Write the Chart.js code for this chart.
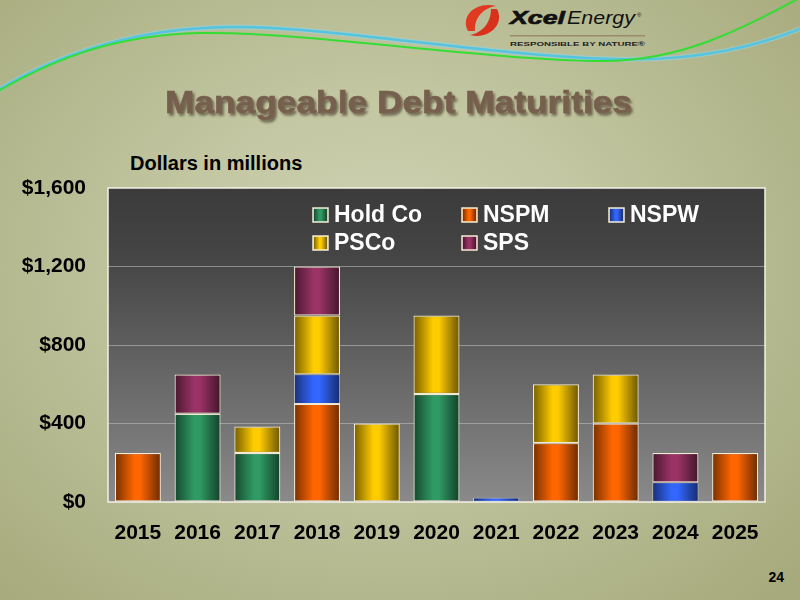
<!DOCTYPE html>
<html><head><meta charset="utf-8">
<script src="https://cdn.jsdelivr.net/npm/chart.js@4"></script>
<style>
html,body{margin:0;padding:0;width:800px;height:600px;overflow:hidden}
body{background:radial-gradient(ellipse 70% 75% at 48% 45%, #d0d4b6 0%, #c0c49e 45%, #a6aa7c 100%);font-family:"Liberation Sans",Arial,sans-serif;position:relative}
#deco{position:absolute;left:0;top:0}
#sub{position:absolute;left:130px;top:152px;font-weight:bold;font-size:20px;color:#000;white-space:nowrap}
#page{position:absolute;right:16px;top:569px;font-weight:bold;font-size:14px;color:#000}
#wrap{position:absolute;left:0;top:0;width:800px;height:600px}
</style></head>
<body>
<svg id="deco" width="800" height="600" xmlns="http://www.w3.org/2000/svg">
  <defs>
    <filter id="ts" x="-5%" y="-20%" width="110%" height="150%">
      <feDropShadow dx="2" dy="2.5" stdDeviation="1.2" flood-color="#3c2c1c" flood-opacity="0.6"/>
    </filter>
  </defs>
  <path d="M -5 92 C 60 52, 140 28, 230 27 C 330 26, 480 55, 612 59 C 700 62, 760 45, 805 27" fill="none" stroke="#8fd8e8" stroke-width="5" opacity="0.5"/>
  <path d="M -5 92 C 60 52, 140 28, 230 27 C 330 26, 480 55, 612 59 C 700 62, 760 45, 805 27" fill="none" stroke="#55c4e0" stroke-width="2.5"/>
  <path d="M -5 93 C 60 55, 120 35, 200 33 C 300 31, 480 60, 600 61 C 680 62, 740 30, 805 -5" fill="none" stroke="#33dd33" stroke-width="2"/>
  <path d="M 468 31 C 460 16, 476 1, 496 6 C 484 8, 474 17, 475 31 Z" fill="#e03a22"/>
  <path d="M 497 9 C 505 24, 489 40, 470 35 C 481 33, 491 24, 491 9 Z" fill="#d8321c"/>
  <text x="510" y="24" font-family="Liberation Sans, Arial" font-weight="bold" font-style="italic" font-size="19" textLength="55" lengthAdjust="spacingAndGlyphs" fill="#111" stroke="#111" stroke-width="0.7">Xcel</text>
  <text x="567" y="24" font-family="Liberation Sans, Arial" font-style="italic" font-size="19" textLength="68" lengthAdjust="spacingAndGlyphs" fill="#111">Energy</text>
  <text x="637" y="17" font-family="Liberation Sans, Arial" font-size="6" fill="#111">®</text>
  <rect x="510" y="35" width="135" height="1.5" fill="#9c8a6c"/>
  <text x="510" y="45.5" font-family="Liberation Sans, Arial" font-weight="bold" font-size="6" textLength="135" lengthAdjust="spacingAndGlyphs" fill="#222">RESPONSIBLE BY NATURE®</text>
  <text x="165" y="113" font-family="Liberation Sans, Arial" font-weight="bold" font-size="32" textLength="467" lengthAdjust="spacingAndGlyphs" fill="#76604e" stroke="#76604e" stroke-width="0.6" filter="url(#ts)">Manageable Debt Maturities</text>
</svg>
<div id="sub">Dollars in millions</div>
<div id="page">24</div>
<div id="wrap"><canvas id="c" width="800" height="600"></canvas></div>
<script>
const years = ['2015','2016','2017','2018','2019','2020','2021','2022','2023','2024','2025'];
const holdCo = [null, 450, 250, null, null, 550, null, null, null, null, null];
const nspm   = [250, null, null, 500, null, null, null, 300, 400, null, 250];
const nspw   = [null, null, null, 150, null, null, 22, null, null, 100, null];
const psco   = [null, null, 135, 300, 400, 400, null, 300, 250, null, null];
const sps    = [null, 200, null, 250, null, null, null, null, null, 150, null];
const yTickLabels = ['$0', '$400', '$800', '$1,200', '$1,600'];

const FONT = '"Liberation Sans", Arial, sans-serif';
const BORDER = '#f2ead2';

const bgPlugin = {
  id: 'plotBg',
  beforeDraw(chart) {
    const {ctx, chartArea: a} = chart;
    const g = ctx.createLinearGradient(0, a.top, 0, a.bottom);
    g.addColorStop(0, '#3b3b3b');
    g.addColorStop(0.22, '#454545');
    g.addColorStop(1, '#8a8a8a');
    ctx.save(); ctx.fillStyle = g; ctx.fillRect(a.left, a.top, a.right - a.left, a.bottom - a.top); ctx.restore();
  }
};

function shade(ctx, l, t, r, b, k) {
  if (r <= l || b <= t) return;
  k = k == null ? 1 : k;
  const g = ctx.createLinearGradient(l, 0, r, 0);
  g.addColorStop(0, 'rgba(0,0,0,' + 0.5 * k + ')');
  g.addColorStop(0.42, 'rgba(0,0,0,0)');
  g.addColorStop(0.55, 'rgba(0,0,0,0)');
  g.addColorStop(1, 'rgba(0,0,0,' + 0.55 * k + ')');
  ctx.fillStyle = g; ctx.fillRect(l, t, r - l, b - t);
}

const shadePlugin = {
  id: 'barShade',
  afterDatasetsDraw(chart) {
    const ctx = chart.ctx;
    ctx.save();
    chart.data.datasets.forEach((ds, i) => {
      const meta = chart.getDatasetMeta(i);
      meta.data.forEach((el, j) => {
        if (ds.data[j] == null) return;
        const p = el.getProps(['x', 'y', 'base', 'width'], true);
        const bw = ds.borderWidth;
        const l = p.x - p.width / 2 + bw, r = p.x + p.width / 2 - bw;
        const t = Math.min(p.y, p.base) + bw, b = Math.max(p.y, p.base) - bw;
        shade(ctx, l, t, r, b);
      });
    });
    ctx.restore();
  }
};

const framePlugin = {
  id: 'frame',
  afterDraw(chart) {
    const {ctx, chartArea: a} = chart;
    ctx.save();
    ctx.strokeStyle = '#f4f1e6'; ctx.lineWidth = 1.5;
    ctx.strokeRect(a.left, a.top, a.right - a.left, a.bottom - a.top);
    // legend
    const cols = [205, 354, 501];
    const rows = [27, 55];
    ctx.font = 'bold 23px ' + FONT;
    ctx.textBaseline = 'middle';
    chart.data.datasets.forEach((ds, i) => {
      const x = a.left + cols[i % 3], y = a.top + rows[Math.floor(i / 3)];
      ctx.fillStyle = ds.backgroundColor;
      ctx.fillRect(x, y - 7, 15, 14);
      shade(ctx, x + 1, y - 6, x + 14, y + 6);
      ctx.strokeStyle = BORDER; ctx.lineWidth = 1.5;
      ctx.strokeRect(x, y - 7, 15, 14);
      ctx.fillStyle = '#ffffff';
      ctx.fillText(ds.label, x + 21, y + 1);
    });
    ctx.restore();
  }
};

function mk(label, data, color, bw) {
  return { label, data, backgroundColor: color, borderColor: BORDER, borderWidth: bw || 1.2, borderSkipped: false,
           barPercentage: 0.77, categoryPercentage: 1.0 };
}

new Chart(document.getElementById('c'), {
  type: 'bar',
  data: {
    labels: years,
    datasets: [
      mk('Hold Co', holdCo, '#2f9a64'),
      mk('NSPM', nspm, '#ff6600'),
      mk('NSPW', nspw, '#3366ff', 0.8),
      mk('PSCo', psco, '#ffcc00'),
      mk('SPS', sps, '#9c3366')
    ]
  },
  options: {
    responsive: false,
    animation: false,
    devicePixelRatio: 1,
    layout: { padding: { top: 188, right: 35, left: 0, bottom: 0 } },
    plugins: { legend: { display: false }, tooltip: { enabled: false }, title: { display: false } },
    scales: {
      x: {
        stacked: true,
        grid: { display: false, drawTicks: false },
        border: { display: false },
        ticks: { color: '#000', font: { family: FONT, weight: 'bold', size: 21 }, padding: 19, maxRotation: 0 },
        afterFit(s) { s.height = 98; }
      },
      y: {
        stacked: true,
        min: 0, max: 1600,
        grid: { drawTicks: false, lineWidth: 1,
                color: c => (c.tick && (c.tick.value === 0 || c.tick.value === 1600)) ? 'rgba(0,0,0,0)' : 'rgba(190,190,190,0.6)' },
        border: { display: false },
        ticks: { stepSize: 400, color: '#000', font: { family: FONT, weight: 'bold', size: 21 }, padding: 22,
                 callback: (v, i) => yTickLabels[i] },
        afterFit(s) { s.width = 108; }
      }
    }
  },
  plugins: [bgPlugin, shadePlugin, framePlugin]
});
</script>
</body></html>
